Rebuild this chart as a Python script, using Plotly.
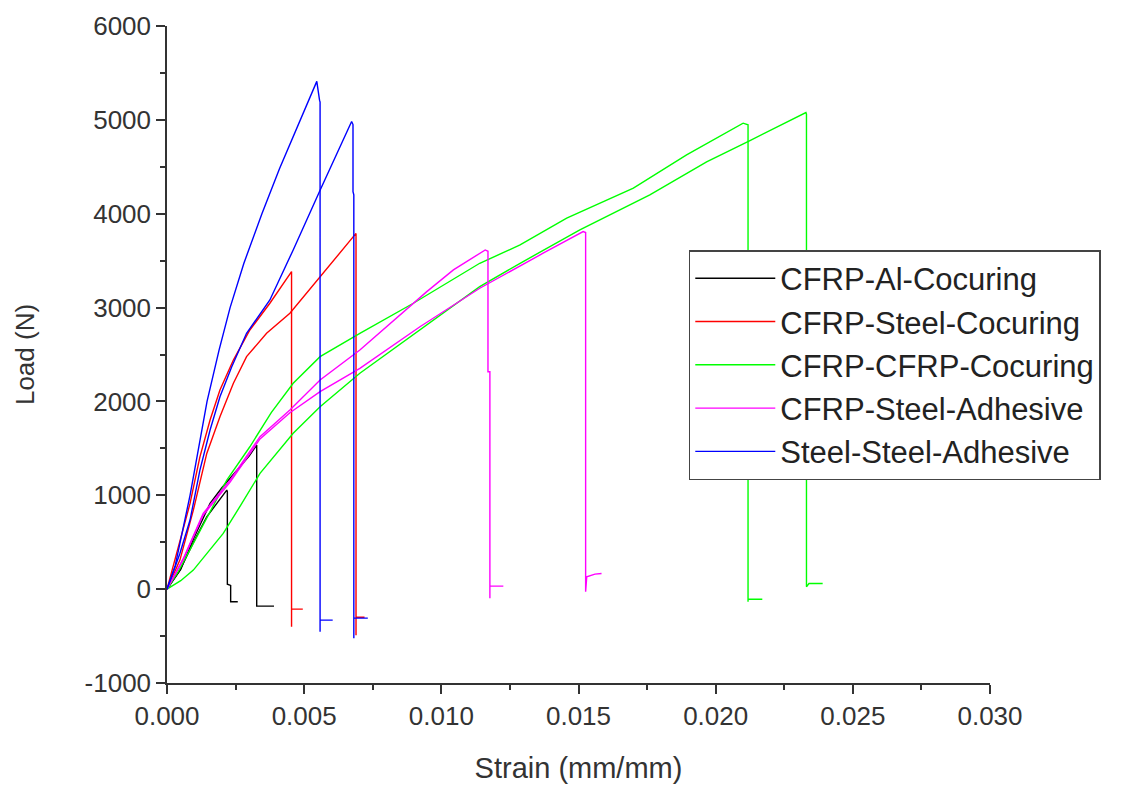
import plotly.graph_objects as go

# ---- data (strain in mm/mm, load in N) ----
al1_x = [0, 0.00047, 0.00100, 0.00145, 0.00218, 0.00220, 0.00220, 0.00232, 0.00232, 0.00258]
al1_y = [0, 203, 520, 771, 1055, 1040, 53, 40, -135, -135]
al2_x = [0, 0.00050, 0.00100, 0.00157, 0.00200, 0.00254, 0.00300, 0.00327, 0.00327, 0.00327, 0.00390]
al2_y = [0, 210, 560, 913, 1080, 1269, 1420, 1535, 1520, -181, -181]

st1_x = [0, 0.00035, 0.00084, 0.00120, 0.00157, 0.00193, 0.00242, 0.00302, 0.00375, 0.00454, 0.00454, 0.00454, 0.00495]
st1_y = [0, 380, 913, 1410, 1802, 2122, 2441, 2761, 3046, 3383, -402, -213, -213]
st2_x = [0, 0.00047, 0.00096, 0.00145, 0.00193, 0.00242, 0.00290, 0.00363, 0.00448, 0.00558, 0.00677, 0.00689,
         0.00689, 0.00689, 0.00720]
st2_y = [0, 309, 842, 1446, 1837, 2193, 2477, 2726, 2939, 3330, 3756, 3790,
         -490, -300, -300]

cc1_x = [0, 0.00040, 0.00096, 0.00160, 0.00218, 0.00302, 0.00380, 0.00460, 0.00558, 0.00703, 0.00898, 0.01140, 0.01287,
         0.01457, 0.01700, 0.01894, 0.02003, 0.02100, 0.02118, 0.02118, 0.02118, 0.02170]
cc1_y = [0, 180, 487, 850, 1162, 1517, 1880, 2193, 2477, 2726, 3046, 3472, 3667,
         3952, 4272, 4627, 4805, 4965, 4947, -135, -107, -107]
cc2_x = [0, 0.00050, 0.00096, 0.00205, 0.00270, 0.00339, 0.00460, 0.00558, 0.00703, 0.00922, 0.01140, 0.01287,
         0.01505, 0.01760, 0.01967, 0.02125, 0.02329, 0.02331, 0.02331, 0.02340, 0.02390]
cc2_y = [0, 90, 203, 594, 900, 1233, 1660, 1944, 2300, 2761, 3223, 3472,
         3827, 4200, 4552, 4780, 5078, 5060, 25, 60, 60]

sa1_x = [0, 0.00060, 0.00132, 0.00230, 0.00339, 0.00448, 0.00558, 0.00703, 0.00947, 0.01044, 0.01160, 0.01170,
         0.01170, 0.01177, 0.01177, 0.01177, 0.01226]
sa1_y = [0, 330, 807, 1162, 1624, 1908, 2228, 2548, 3170, 3401, 3614, 3600,
         2317, 2317, -96, 32, 32]
sa2_x = [0, 0.00060, 0.00132, 0.00230, 0.00339, 0.00448, 0.00558, 0.00703, 0.00922, 0.01140, 0.01371, 0.01517,
         0.01526, 0.01526, 0.01530, 0.01560, 0.01584]
sa2_y = [0, 320, 790, 1140, 1600, 1880, 2104, 2353, 2796, 3206, 3579, 3810,
         3800, -28, 131, 160, 167]

ss1_x = [0, 0.00030, 0.00084, 0.00146, 0.00190, 0.00230, 0.00280, 0.00346, 0.00410, 0.00485, 0.00546, 0.00556,
         0.00558, 0.00558, 0.00558, 0.00604]
ss1_y = [0, 250, 1000, 2000, 2550, 3000, 3470, 4000, 4480, 5000, 5410, 5210,
         5190, -455, -330, -330]
ss2_x = [0, 0.00047, 0.00084, 0.00120, 0.00157, 0.00193, 0.00236, 0.00290, 0.00375, 0.00460, 0.00558, 0.00673,
         0.00678, 0.00678, 0.00681, 0.00681, 0.00681, 0.00732]
ss2_y = [0, 380, 736, 1269, 1695, 2050, 2370, 2726, 3081, 3614, 4250, 4982,
         4950, 4236, 4200, -522, -309, -309]

series = [
    ("CFRP-Al-Cocuring", "#000000", [(al1_x, al1_y), (al2_x, al2_y)]),
    ("CFRP-Steel-Cocuring", "#ff0000", [(st1_x, st1_y), (st2_x, st2_y)]),
    ("CFRP-CFRP-Cocuring", "#00ff00", [(cc1_x, cc1_y), (cc2_x, cc2_y)]),
    ("CFRP-Steel-Adhesive", "#ff00ff", [(sa1_x, sa1_y), (sa2_x, sa2_y)]),
    ("Steel-Steel-Adhesive", "#0000ff", [(ss1_x, ss1_y), (ss2_x, ss2_y)]),
]

x_ticks = [0.000, 0.005, 0.010, 0.015, 0.020, 0.025, 0.030]
x_tick_text = ["0.000", "0.005", "0.010", "0.015", "0.020", "0.025", "0.030"]
y_ticks = [-1000, 0, 1000, 2000, 3000, 4000, 5000, 6000]
y_tick_text = ["-1000", "0", "1000", "2000", "3000", "4000", "5000", "6000"]

fig = go.Figure()
for name, color, curves in series:
    for i, (xs, ys) in enumerate(curves):
        fig.add_trace(go.Scatter(
            x=xs, y=ys, mode="lines", name=name, legendgroup=name,
            showlegend=(i == 0), line=dict(color=color, width=1.4),
        ))

font_family = "Arial, 'Liberation Sans', sans-serif"
axis_color = "#333333"
fig.update_layout(
    width=1136, height=785,
    margin=dict(l=167, r=146, t=26, b=102),
    plot_bgcolor="white", paper_bgcolor="white",
    font=dict(family=font_family, color="#333333"),
    legend=dict(
        x=0.634, y=0.659, xanchor="left", yanchor="top",
        bgcolor="white", bordercolor="#444444", borderwidth=1.5,
        font=dict(size=31, color="#222222", family=font_family),
        itemwidth=80, tracegroupgap=0,
    ),
    xaxis=dict(
        range=[0, 0.030], tickvals=x_ticks, ticktext=x_tick_text, automargin=False,
        showgrid=False, zeroline=False, showline=True, linecolor=axis_color, linewidth=1.5,
        ticks="outside", ticklen=9, tickwidth=1.5, tickcolor=axis_color,
        minor=dict(dtick=0.0025, ticks="outside", ticklen=5, tickwidth=1.5, tickcolor=axis_color),
        tickfont=dict(size=26, color="#333333"),
        title=dict(text="Strain (mm/mm)", font=dict(size=29, color="#333333"), standoff=28),
    ),
    yaxis=dict(
        range=[-1000, 6000], tickvals=y_ticks, ticktext=y_tick_text, automargin=False,
        showgrid=False, zeroline=False, showline=True, linecolor=axis_color, linewidth=1.5,
        ticks="outside", ticklen=9, tickwidth=1.5, tickcolor=axis_color,
        minor=dict(dtick=500, ticks="outside", ticklen=5, tickwidth=1.5, tickcolor=axis_color),
        tickfont=dict(size=26, color="#333333"),
        title=dict(text="Load (N)", font=dict(size=26, color="#333333"), standoff=42),
    ),
)

fig.write_html("out.html")
